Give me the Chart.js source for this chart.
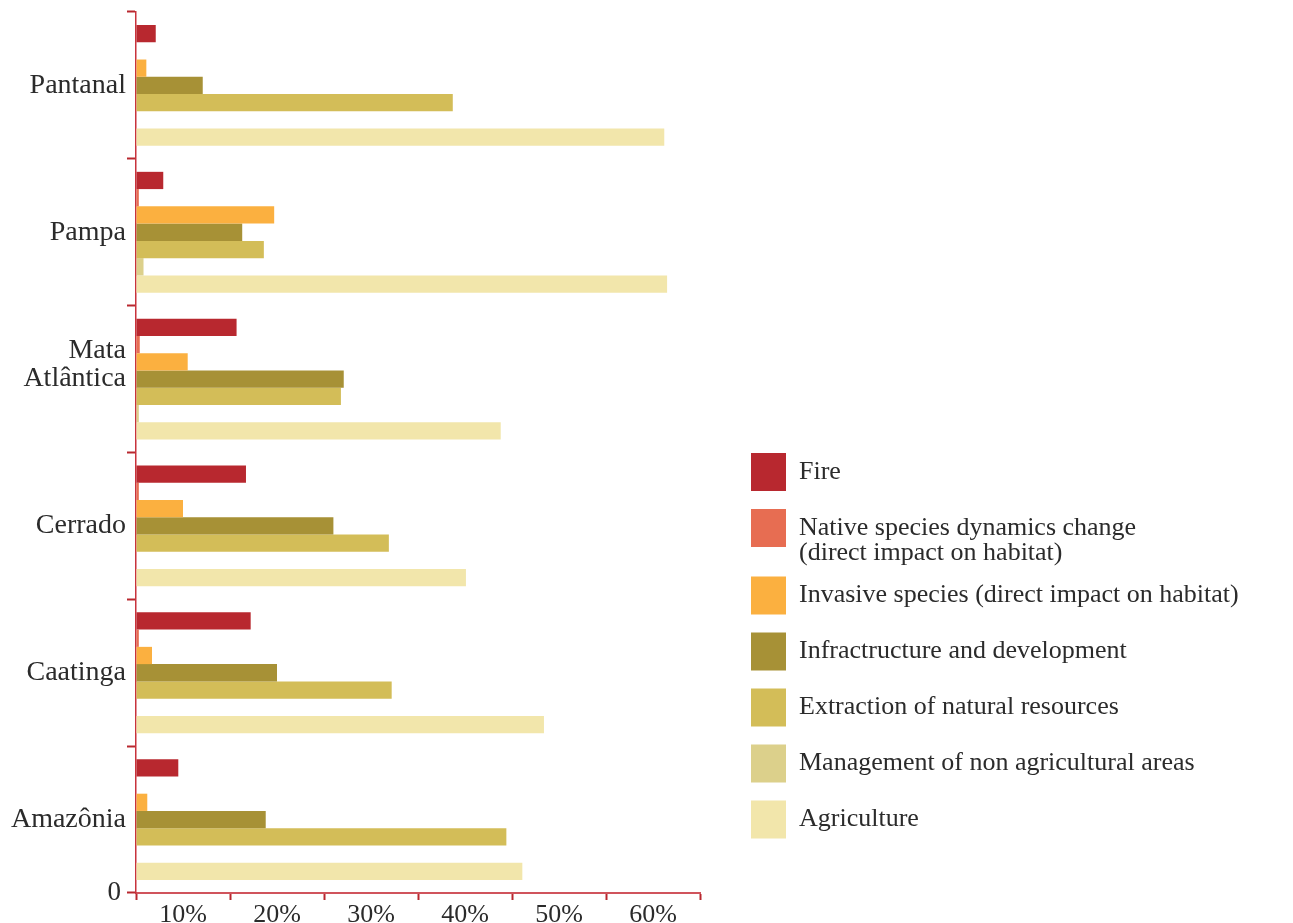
<!DOCTYPE html>
<html>
<head>
<meta charset="utf-8">
<script src="https://cdn.jsdelivr.net/npm/chart.js"></script>
<style>
  body { margin: 0; background: #fff; }
  #wrap { width: 1293px; height: 923px; }
</style>
</head>
<body>
<div id="wrap"><canvas id="graph" width="1293" height="923"></canvas></div>
<script>
// biomes, top to bottom (empty third line lifts "Mata Atlântica" a bit, as in the original)
const categories = ['Pantanal', 'Pampa', ['Mata', 'Atlântica', ''], 'Cerrado', 'Caatinga', 'Amazônia'];

// % per threat
const fire           = [2.1, 2.9, 10.7, 11.7, 12.2, 4.5];
const nativeSpecies  = [0, 0.3, 0.4, 0.3, 0.3, 0];
const invasive       = [1.1, 14.7, 5.5, 5.0, 1.7, 1.2];
const infrastructure = [7.1, 11.3, 22.1, 21.0, 15.0, 13.8];
const extraction     = [33.7, 13.6, 21.8, 26.9, 27.2, 39.4];
const management     = [0, 0.8, 0.3, 0, 0, 0];
const agriculture    = [56.2, 56.5, 38.8, 35.1, 43.4, 41.1];

const xTickValues = [0, 10, 20, 30, 40, 50, 60];

const serif = 'Liberation Serif';
const textColor = '#2b2b2b';
const axisRed = '#b8282f';

// legend sizes
const legendFont = 26;
const legendBox = 35;
const legendPad = 18;
const plotRight = 700;   // where 60% ends
const gapToLegend = 33;

// the legend is as wide as its longest text, so work out the right padding from it
var mctx = document.createElement('canvas').getContext('2d');
mctx.font = legendFont + 'px ' + serif;
var longest = mctx.measureText('Invasive species (direct impact on habitat)').width;
var legendWidth = legendPad + legendBox + legendFont / 2 + longest + 10;
var padRight = Math.max(0, 1293 - plotRight - gapToLegend - legendWidth);

// the "0" sits at the corner, left of the axes
const zeroLabel = {
  id: 'zeroLabel',
  afterDraw(chart) {
    const ctx = chart.ctx;
    const x = chart.scales.x;
    ctx.save();
    ctx.font = '27px "' + serif + '"';
    ctx.fillStyle = textColor;
    ctx.textAlign = 'right';
    ctx.textBaseline = 'middle';
    ctx.fillText('0', x.left - 15, x.top);
    ctx.restore();
  }
};

var graph = document.getElementById('graph').getContext('2d');
var myChart = new Chart(graph, {
  type: 'bar',
  data: {
    labels: categories,
    datasets: [
      { label: 'Fire', data: fire, backgroundColor: '#b8282f' },
      { label: ['Native species dynamics change', '(direct impact on habitat)'], data: nativeSpecies, backgroundColor: '#e76d52' },
      { label: 'Invasive species (direct impact on habitat)', data: invasive, backgroundColor: '#fbb040' },
      { label: 'Infractructure and development', data: infrastructure, backgroundColor: '#a79136' },
      { label: 'Extraction of natural resources', data: extraction, backgroundColor: '#d3bd58' },
      { label: 'Management of non agricultural areas', data: management, backgroundColor: '#dcd08b' },
      { label: 'Agriculture', data: agriculture, backgroundColor: '#f2e6ab' }
    ]
  },
  options: {
    indexAxis: 'y',
    responsive: false,
    animation: false,
    devicePixelRatio: 1,
    datasets: {
      bar: { barPercentage: 1, categoryPercentage: 0.823, borderWidth: 0 }
    },
    layout: { padding: { top: 12, right: padRight, bottom: 0, left: 0 } },
    scales: {
      x: {
        type: 'linear',
        min: 0,
        max: 60,
        afterBuildTicks: (scale) => { scale.ticks = xTickValues.map(v => ({ value: v })); },
        afterFit: (scale) => { scale.height = 30; },
        ticks: {
          callback: (v) => v === 0 ? '' : v + '%',
          labelOffset: -47,
          padding: 0,
          maxRotation: 0,
          autoSkip: false,
          color: textColor,
          font: { family: serif, size: 26 }
        },
        grid: { drawOnChartArea: false, tickLength: 7, tickColor: axisRed, tickWidth: 2 },
        border: { color: '#d0545c', width: 2 }
      },
      y: {
        afterFit: (scale) => {
          scale.width = 136;
          scale.paddingTop = 0;
          scale.paddingBottom = 0;
        },
        ticks: {
          padding: 1,
          color: textColor,
          font: { family: serif, size: 28, lineHeight: 1.0 }
        },
        grid: { drawOnChartArea: false, offset: true, tickLength: 9, tickColor: axisRed, tickWidth: 2 },
        border: { color: '#c8333c', width: 1.5 }
      },
      gap: {
        // empty box between the plot and the legend
        type: 'linear',
        position: 'right',
        afterFit: (scale) => {
          scale.width = gapToLegend;
          scale.paddingTop = 0;
          scale.paddingBottom = 0;
        },
        ticks: { display: false },
        grid: { display: false },
        border: { display: false }
      }
    },
    plugins: {
      tooltip: { enabled: false },
      legend: {
        position: 'right',
        align: 'start',
        maxWidth: 700,
        title: { display: true, text: ' ', font: { size: 10, lineHeight: 1 }, padding: { top: 413, bottom: 0 } },
        labels: {
          boxWidth: legendBox,
          boxHeight: 38,
          padding: legendPad,
          color: textColor,
          font: { family: serif, size: legendFont, lineHeight: 0.95 }
        }
      }
    }
  },
  plugins: [zeroLabel]
});
</script>
</body>
</html>
